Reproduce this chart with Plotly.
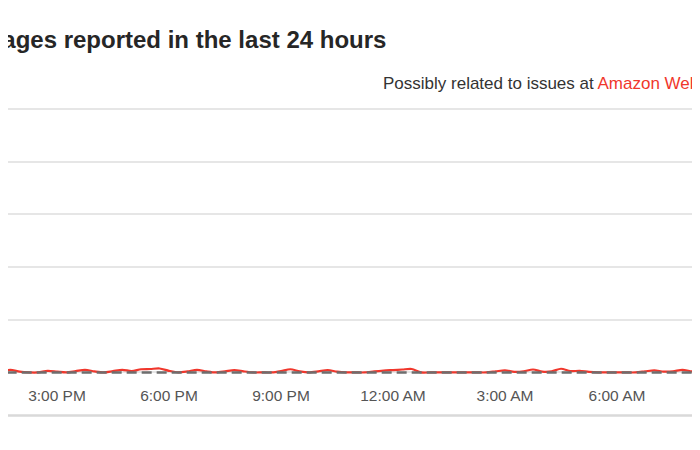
import plotly.graph_objects as go
import pandas as pd

# reports every 15 minutes, starting 1:15 PM
start = "2024-01-01 13:15"
reports = [0, 0.3, 1, 0.3, 0, 0, 0.6, 0.3, 0, 0.5,
           1, 0.4, 0, 0.5, 1, 0.5, 1.2, 1.3, 1.5, 0.6,
           0, 0.4, 1, 0.4, 0, 0.4, 0.9, 0.4, 0, 0,
           0, 0.5, 1.2, 0.4, 0, 0.4, 0.9, 0.3, 0, 0,
           0, 0.4, 0.7, 0.9, 1.1, 1.3, 0, 0, 0, 0,
           0, 0, 0, 0, 0.4, 0.8, 0.2, 0.4, 1.1, 0.3,
           0.4, 1.4, 0.5, 0.6, 0.2, 0, 0, 0, 0, 0,
           0.4, 0.8, 0.3, 0.4, 1, 0.4, 0, 0]
baseline = [0] * len(reports)
times = pd.date_range(start, periods=len(reports), freq="15min")

tick_vals = ["2024-01-01 15:00", "2024-01-01 18:00", "2024-01-01 21:00",
             "2024-01-02 00:00", "2024-01-02 03:00", "2024-01-02 06:00"]
tick_text = ["3:00 PM", "6:00 PM", "9:00 PM", "12:00 AM", "3:00 AM", "6:00 AM"]

font = "Liberation Sans, Arial, Helvetica, sans-serif"

fig = go.Figure()
fig.add_trace(go.Scatter(
    x=times, y=reports, mode="lines",
    line=dict(color="#f0372c", width=2.2, shape="spline", smoothing=0.8),
    hoverinfo="skip", showlegend=False,
))
fig.add_trace(go.Scatter(
    x=times, y=baseline, mode="lines",
    line=dict(color="#6e6e6e", width=2.5, dash="10px,5px"),
    hoverinfo="skip", showlegend=False,
))

# titles, partly cut off like the screenshot
fig.add_annotation(
    text="outages reported in the last 24 hours",
    xref="paper", yref="paper", x=0.5429, y=1.2425,
    xanchor="right", yanchor="middle", showarrow=False,
    font=dict(family=font, size=24, color="#262626", weight="bold"),
)
fig.add_annotation(
    text='Possibly related to issues at <span style="color:#f0372c">Amazon Web Services</span>',
    xref="paper", yref="paper", x=0.5329, y=1.0786,
    xanchor="left", yanchor="middle", showarrow=False,
    font=dict(family=font, size=17, color="#333333"),
)
fig.add_shape(type="line", xref="paper", yref="paper",
              x0=0, x1=1, y0=-0.1542, y1=-0.1542,
              line=dict(color="#d9d9d9", width=2.5))

fig.update_layout(
    width=700, height=450, autosize=False,
    margin=dict(l=0, r=0, t=97, b=84, pad=0),
    plot_bgcolor="white", paper_bgcolor="white",
    font=dict(family=font),
)
fig.update_xaxes(
    range=["2024-01-01 13:41:15", "2024-01-02 08:26:15"],
    tickvals=tick_vals, ticktext=tick_text,
    showgrid=False, zeroline=False, showline=False, ticks="",
    ticklabelstandoff=10,
    tickfont=dict(family=font, size=15.5, color="#555555"),
)
fig.update_yaxes(
    range=[-0.6, 101.5], dtick=20, tick0=0,
    showgrid=True, gridcolor="#e6e6e6", gridwidth=1.5,
    zeroline=False, showticklabels=False, showline=False,
)

fig.write_html("out.html")
